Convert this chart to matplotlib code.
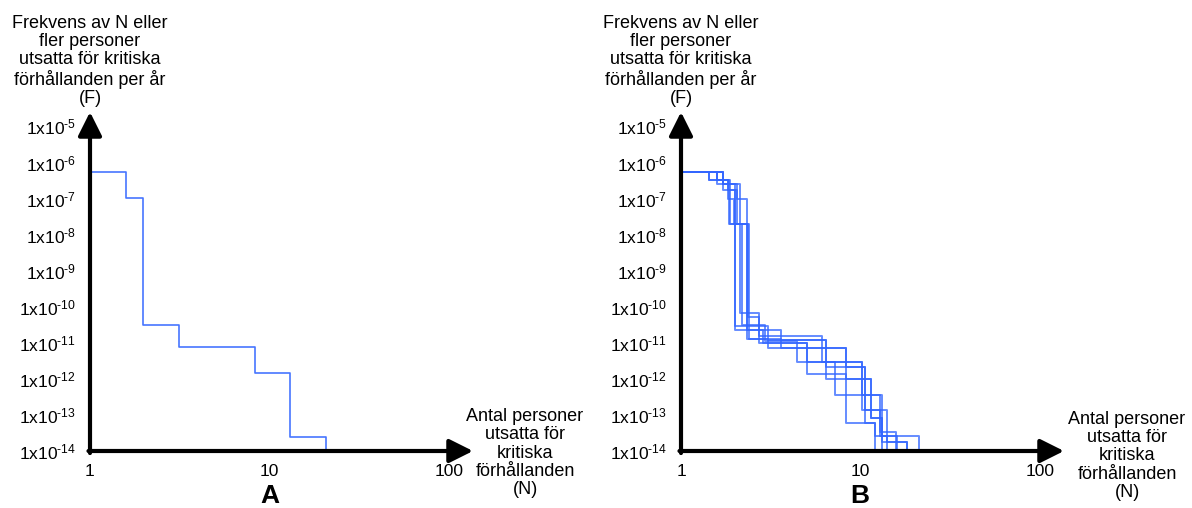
import matplotlib
matplotlib.use("Agg")
import matplotlib.pyplot as plt

plt.rcParams['font.family'] = ['Liberation Sans', 'DejaVu Sans']
plt.rcParams['mathtext.fontset'] = 'custom'
plt.rcParams['mathtext.rm'] = 'Liberation Sans'
plt.rcParams['mathtext.it'] = 'Liberation Sans:italic'
plt.rcParams['mathtext.bf'] = 'Liberation Sans:bold'

# y-axis decades and x-axis ticks
y_exps = [-5, -6, -7, -8, -9, -10, -11, -12, -13, -14]
x_ticks = [1, 10, 100]
x_ticklabels = ['1', '10', '100']
F_FLOOR = 1e-14

# Panel A: single F-N curve (N breakpoints, F level held after each breakpoint)
n_a = [1, 1.58, 1.98, 3.13, 8.26, 13.0, 20.6]
f_a = [5.4e-7, 1.05e-7, 3.1e-11, 7.6e-12, 1.5e-12, 2.5e-14]

# Panel B: set of F-N curves from the sensitivity runs
n_b1 = [1, 1.43, 1.86, 2.13, 2.72, 6.1, 10.2, 13.2, 21.0]
f_b1 = [5.5e-7, 3.2e-7, 2.0e-8, 6.5e-11, 1.5e-11, 3.0e-12, 3.5e-13, 2.6e-14]
n_b2 = [1, 1.58, 2.00, 3.05, 6.4, 10.6, 14.0, 18.1]
f_b2 = [5.5e-7, 2.6e-7, 2.9e-11, 1.2e-11, 2.2e-12, 1.4e-13, 1.8e-14]
n_b3 = [1, 1.72, 1.87, 2.32, 2.87, 5.0, 8.27, 12.05, 15.9]
f_b3 = [5.5e-7, 3.2e-7, 2.0e-8, 2.2e-11, 1.0e-11, 1.4e-12, 5.8e-14, 2.6e-14]
n_b4 = [1, 1.43, 1.72, 2.04, 2.39, 3.61, 8.27, 11.4, 13.2]
f_b4 = [5.5e-7, 3.2e-7, 1.7e-7, 2.0e-8, 1.3e-11, 7.2e-12, 1.0e-12, 8.1e-14]
n_b5 = [1, 1.58, 1.83, 1.96, 2.18, 2.94, 4.44, 7.15, 12.8, 15.6]
f_b5 = [5.5e-7, 3.2e-7, 1.0e-7, 2.0e-8, 3.1e-11, 1.1e-11, 3.0e-12, 3.5e-13, 3.4e-14]
n_b6 = [1, 1.72, 2.13, 2.37, 2.72, 5.0, 10.2, 12.8, 14.0]
f_b6 = [5.5e-7, 2.6e-7, 2.0e-8, 5.2e-11, 1.0e-11, 2.9e-12, 1.4e-13, 2.6e-14]
n_b7 = [1, 1.58, 1.83, 2.0, 3.61, 6.4, 11.4, 13.2, 18.1]
f_b7 = [5.5e-7, 3.2e-7, 1.7e-7, 2.2e-11, 1.2e-11, 1.0e-12, 8.1e-14, 1.8e-14]
n_b8 = [1, 1.72, 2.04, 2.32, 3.05, 8.27, 10.6, 12.05]
f_b8 = [5.5e-7, 2.6e-7, 1.0e-7, 1.3e-11, 7.2e-12, 2.2e-12, 5.8e-14]

curves_b = [(n_b1, f_b1), (n_b2, f_b2), (n_b3, f_b3), (n_b4, f_b4),
            (n_b5, f_b5), (n_b6, f_b6), (n_b7, f_b7), (n_b8, f_b8)]

LINE_COLOR = '#3366ff'

y_title = 'Frekvens av N eller\nfler personer\nutsatta för kritiska\nförhållanden per år\n(F)'
x_title = 'Antal personer\nutsatta för\nkritiska\nförhållanden\n(N)'

W, H = 1192, 508
fig = plt.figure(figsize=(W / 100, H / 100), dpi=100)


def px_rect(x0, y_top, x1, y_bot):
    return [x0 / W, 1 - y_bot / H, (x1 - x0) / W, (y_bot - y_top) / H]


def setup_axes(ax):
    ax.set_xscale('log')
    ax.set_yscale('log')
    ax.set_xlim(1, 10 ** 2.13)
    ax.set_ylim(F_FLOOR, 10 ** -4.6)
    for s in ax.spines.values():
        s.set_visible(False)
    ax.set_xticks(x_ticks)
    ax.set_xticklabels(x_ticklabels, fontsize=12.5)
    ax.set_yticks([10.0 ** e for e in y_exps])
    ax.set_yticklabels([r'1x10$^{\text{%d}}$' % e for e in y_exps], fontsize=12.5)
    ax.minorticks_off()
    ax.tick_params(axis='both', length=0)
    ax.tick_params(axis='x', pad=9)
    ax.tick_params(axis='y', pad=10)
    ax.patch.set_alpha(0)
    arrow = dict(arrowstyle='-|>,head_length=0.9,head_width=0.45', lw=3,
                 color='black', mutation_scale=16, shrinkA=0, shrinkB=0)
    ax.annotate('', xy=(1, 0), xytext=(-0.004, 0), xycoords='axes fraction',
                arrowprops=arrow, annotation_clip=False)
    ax.annotate('', xy=(0, 1), xytext=(0, -0.006), xycoords='axes fraction',
                arrowprops=arrow, annotation_clip=False)


def draw_curve(ax, n, f, **kw):
    ax.step(n, list(f) + [F_FLOOR], where='post', color=LINE_COLOR,
            clip_on=False, **kw)


ax_a = fig.add_axes(px_rect(90, 112, 473, 451))
setup_axes(ax_a)
draw_curve(ax_a, n_a, f_a, lw=1.2, alpha=0.9)

ax_b = fig.add_axes(px_rect(681, 112, 1064, 451))
setup_axes(ax_b)
for n, f in curves_b:
    draw_curve(ax_b, n, f, lw=1.4, alpha=0.75)

# axis titles and panel letters
for x_axis, x_lab, y_lab, letter, x_letter in [(90, 525, 453, 'A', 270),
                                                (681, 1127, 456, 'B', 860)]:
    fig.text(x_axis / W, 1 - 61 / H, y_title, ha='center', va='center',
             multialignment='center', fontsize=13, linespacing=1.1)
    fig.text(x_lab / W, 1 - y_lab / H, x_title, ha='center', va='center',
             multialignment='center', fontsize=13, linespacing=1.1)
    fig.text(x_letter / W, 1 - 496 / H, letter, ha='center', va='center',
             fontsize=19, fontweight='bold')

fig.savefig('out.png', dpi=100)
